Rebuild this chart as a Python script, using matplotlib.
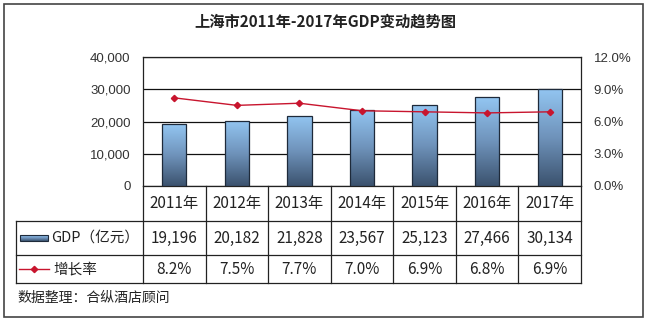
import numpy as np
import matplotlib
matplotlib.use("Agg")
import matplotlib.pyplot as plt
from matplotlib.patches import Rectangle
from matplotlib.lines import Line2D
from matplotlib.colors import LinearSegmentedColormap

plt.rcParams['font.family'] = ['Noto Sans CJK SC', 'DejaVu Sans']

years = ["2011年", "2012年", "2013年", "2014年", "2015年", "2016年", "2017年"]
gdp = [19196, 20182, 21828, 23567, 25123, 27466, 30134]
growth = [8.2, 7.5, 7.7, 7.0, 6.9, 6.8, 6.9]
gdp_label = "GDP（亿元）"
growth_label = "增长率"
title = "上海市2011年-2017年GDP变动趋势图"
source = "数据整理：合纵酒店顾问"

W, H = 650, 323
fig = plt.figure(figsize=(W / 100, H / 100), dpi=100)


def fx(px):
    return px / W


def fy(py):
    return 1 - py / H


# outer frame
fig.add_artist(Rectangle((fx(4), fy(317)), fx(639), 313 / H, transform=fig.transFigure,
                         fill=False, edgecolor="#444444", lw=1.2))

fig.text(0.5, fy(22), title, ha="center", va="center", fontsize=11,
         fontweight="bold", color="#222222")

# main plot area
left, right, top, bottom = 143, 581, 57, 186
ax = fig.add_axes([fx(left), fy(bottom), fx(right - left), (bottom - top) / H])
x = np.arange(len(years))
ax.set_xlim(-0.5, len(years) - 0.5)
ax.set_ylim(0, 40000)
ax.set_yticks([0, 10000, 20000, 30000, 40000])
ax.set_yticklabels([f"{v:,}" for v in [0, 10000, 20000, 30000, 40000]],
                   family=['Liberation Sans', 'DejaVu Sans'], fontsize=9.5, color="#333333")
ax.set_xticks([])
ax.tick_params(axis="y", length=0, pad=9)
ax.grid(axis="y", color="#111111", lw=0.9)
ax.set_axisbelow(True)
for s in ax.spines.values():
    s.set_color("#222222")
    s.set_linewidth(0.9)

cmap = LinearSegmentedColormap.from_list("bar", ["#3b526e", "#6f93bb", "#93c6f2"])
grad = np.linspace(0, 1, 256).reshape(-1, 1)
bars = ax.bar(x, gdp, width=0.39, color="none", edgecolor="#1e2a3a", lw=0.9, zorder=3)
for b in bars:
    bx, by = b.get_x(), b.get_y()
    im = ax.imshow(grad, cmap=cmap, origin="lower", aspect="auto", zorder=2.9,
                   extent=[bx, bx + b.get_width(), by, by + b.get_height()])
    im.set_clip_path(b)
ax.set_xlim(-0.5, len(years) - 0.5)
ax.set_ylim(0, 40000)

ax2 = ax.twinx()
ax2.set_ylim(0, 12)
ax2.set_yticks([0, 3, 6, 9, 12])
ax2.set_yticklabels([f"{v:.1f}%" for v in [0, 3, 6, 9, 12]],
                    family=['Liberation Sans', 'DejaVu Sans'], fontsize=9.5, color="#333333")
ax2.tick_params(axis="y", length=0, pad=9)
ax2.plot(x, growth, color="#c8152e", lw=1.0, marker="D", markersize=3.2, zorder=5)
for s in ax2.spines.values():
    s.set_visible(False)

# data table below plot
tab = fig.add_axes([0, 0, 1, 1], facecolor="none")
tab.set_xlim(0, W)
tab.set_ylim(H, 0)
tab.axis("off")
col_w = (right - left) / len(years)
r0, r1, r2, r3 = 186, 221, 255, 283
lc = "#222222"
tab.add_line(Line2D([left, left], [r0, r3], color=lc, lw=0.9))
for i in range(1, len(years) + 1):
    xx = left + i * col_w
    tab.add_line(Line2D([xx, xx], [r0, r3], color=lc, lw=0.9))
tab.add_line(Line2D([16, right], [r1, r1], color=lc, lw=0.9))
tab.add_line(Line2D([16, right], [r2, r2], color=lc, lw=0.9))
tab.add_line(Line2D([16, right], [r3, r3], color=lc, lw=0.9))
tab.add_line(Line2D([16, 16], [r1, r3], color=lc, lw=0.9))

fs = 11
for i in range(len(years)):
    cx = left + (i + 0.5) * col_w
    tab.text(cx, (r0 + r1) / 2, years[i], ha="center", va="center", fontsize=fs, color="#222222")
    tab.text(cx, (r1 + r2) / 2, f"{gdp[i]:,}", ha="center", va="center", fontsize=fs, color="#222222")
    tab.text(cx, (r2 + r3) / 2, f"{growth[i]:.1f}%", ha="center", va="center", fontsize=fs, color="#222222")

# legend keys
key = Rectangle((20, (r1 + r2) / 2 - 3), 28, 6, facecolor="none", edgecolor="#1e2a3a", lw=0.8)
tab.add_patch(key)
kim = tab.imshow(grad[::-1], cmap=cmap, aspect="auto", extent=[20, 48, (r1 + r2) / 2 + 3, (r1 + r2) / 2 - 3])
kim.set_clip_path(key)
tab.set_xlim(0, W)
tab.set_ylim(H, 0)
tab.text(51, (r1 + r2) / 2, gdp_label, ha="left", va="center", fontsize=10.5, color="#222222")
tab.plot([19, 49], [(r2 + r3) / 2] * 2, color="#c8152e", lw=1.0)
tab.plot([34], [(r2 + r3) / 2], color="#c8152e", marker="D", markersize=3.2)
tab.text(53, (r2 + r3) / 2, growth_label, ha="left", va="center", fontsize=10.5, color="#222222")

tab.text(17, 298, source, ha="left", va="center", fontsize=10, color="#222222")

fig.savefig("out.png", dpi=100)
